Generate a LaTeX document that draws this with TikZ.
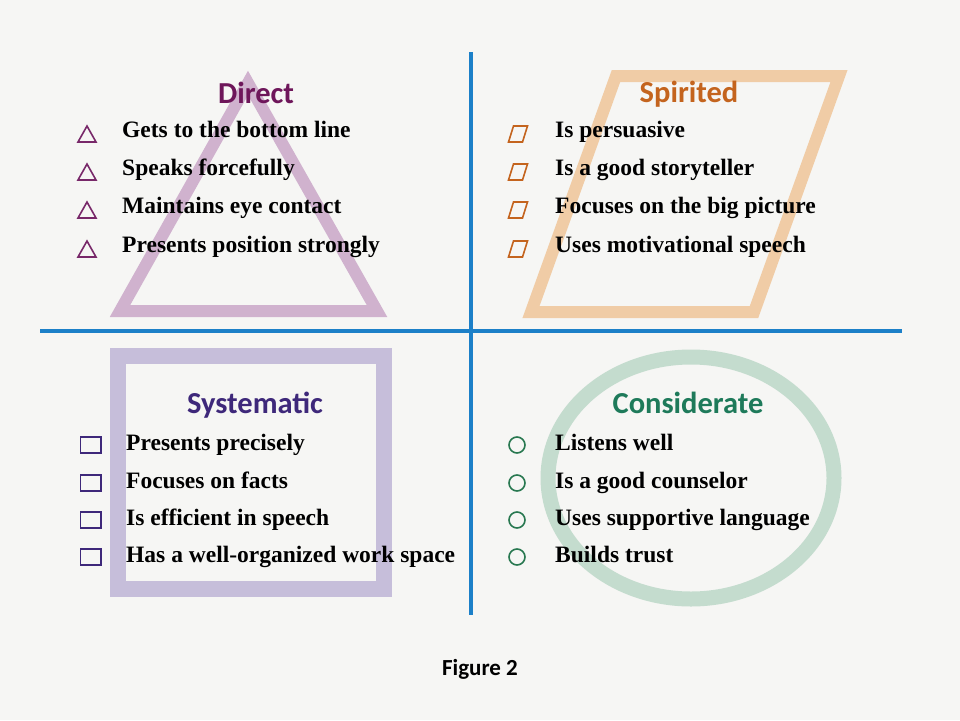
\documentclass[tikz,border=0pt]{standalone}
\usepackage{fontspec}
\setmainfont{Liberation Serif}
\newfontfamily\calib{Carlito}
\definecolor{bg}{RGB}{246,246,244}
\definecolor{axis}{RGB}{28,128,200}
\definecolor{trifill}{RGB}{208,178,206}
\definecolor{parfill}{RGB}{240,204,166}
\definecolor{sqfill}{RGB}{198,190,218}
\definecolor{cirfill}{RGB}{196,220,206}
\definecolor{dirc}{RGB}{110,22,90}
\definecolor{spic}{RGB}{196,100,30}
\definecolor{sysc}{RGB}{62,40,122}
\definecolor{conc}{RGB}{30,122,90}
\definecolor{tribul}{RGB}{120,40,105}
\definecolor{parbul}{RGB}{196,100,30}
\definecolor{sqbul}{RGB}{62,40,122}
\definecolor{cirbul}{RGB}{40,120,80}
\tikzset{
  title/.style={font=\calib\bfseries\fontsize{30.5}{33}\selectfont, inner sep=0pt, anchor=base},
  item/.style={font=\bfseries\fontsize{23.5}{26}\selectfont, inner sep=0pt, anchor=base west},
  bigshape/.style={line width=#1, line join=miter},
  axisline/.style={draw=axis, line width=4pt},
  bul/.style={line width=1.6pt}
}
\begin{document}
\begin{tikzpicture}[x=1pt,y=-1pt]
\fill[bg] (0,0) rectangle (960,720);
\useasboundingbox (0,0) rectangle (960,720);
% big shapes
\draw[bigshape=12pt, draw=trifill] (248,83) -- (377,311) -- (120,311) -- cycle;
\draw[bigshape=12pt, draw=parfill] (616,76) -- (839,76) -- (754,312) -- (531,312) -- cycle;
\draw[bigshape=16pt, draw=sqfill] (118,356) rectangle (384,589);
\draw[draw=cirfill, line width=15pt] (691,478) ellipse [x radius=143, y radius=121];
% axes
\coordinate (vt) at (471,52);
\coordinate (vb) at (471,615);
\coordinate (hl) at (40,331);
\coordinate (hr) at (902,331);
\draw[axisline] (vt) -- (vb);
\draw[axisline] (hl) -- (hr);
% titles
\node[title, text=dirc] (tdir) at (256,103) {Direct};
\node[title, text=spic] (tspi) at (689,102) {Spirited};
\node[title, text=sysc] (tsys) at (255,413) {Systematic};
\node[title, text=conc] (tcon) at (688,413) {Considerate};
% Direct items (y = baseline)
\foreach \t/\y [count=\i] in {Gets to the bottom line/137, Speaks forcefully/175, Maintains eye contact/213, Presents position strongly/252}{
  \node[item] (d\i) at (122,\y) {\t};
  \draw[bul, draw=tribul] (78,\y+5) -- (96,\y+5) -- (87,\y-11) -- cycle;
}
% Spirited items
\foreach \t/\y [count=\i] in {Is persuasive/137, Is a good storyteller/175, Focuses on the big picture/213, Uses motivational speech/252}{
  \node[item] (s\i) at (555,\y) {\t};
  \draw[bul, draw=parbul] (513.5,\y-11) -- (527.5,\y-11) -- (522.5,\y+5) -- (508.5,\y+5) -- cycle;
}
% Systematic items
\foreach \t/\y [count=\i] in {Presents precisely/450, Focuses on facts/488, Is efficient in speech/525, Has a well-organized work space/562}{
  \node[item] (y\i) at (126,\y) {\t};
  \draw[bul, draw=sqbul] (80.5,\y-13) rectangle (101,\y+3);
}
% Considerate items
\foreach \t/\y [count=\i] in {Listens well/450, Is a good counselor/488, Uses supportive language/525, Builds trust/562}{
  \node[item] (c\i) at (555,\y) {\t};
  \draw[bul, draw=cirbul] (517,\y-5) circle (8);
}
\node[font=\calib\bfseries\fontsize{23}{25}\selectfont, inner sep=0pt, anchor=base] (fig) at (480,675) {Figure 2};
\end{tikzpicture}
\end{document}
